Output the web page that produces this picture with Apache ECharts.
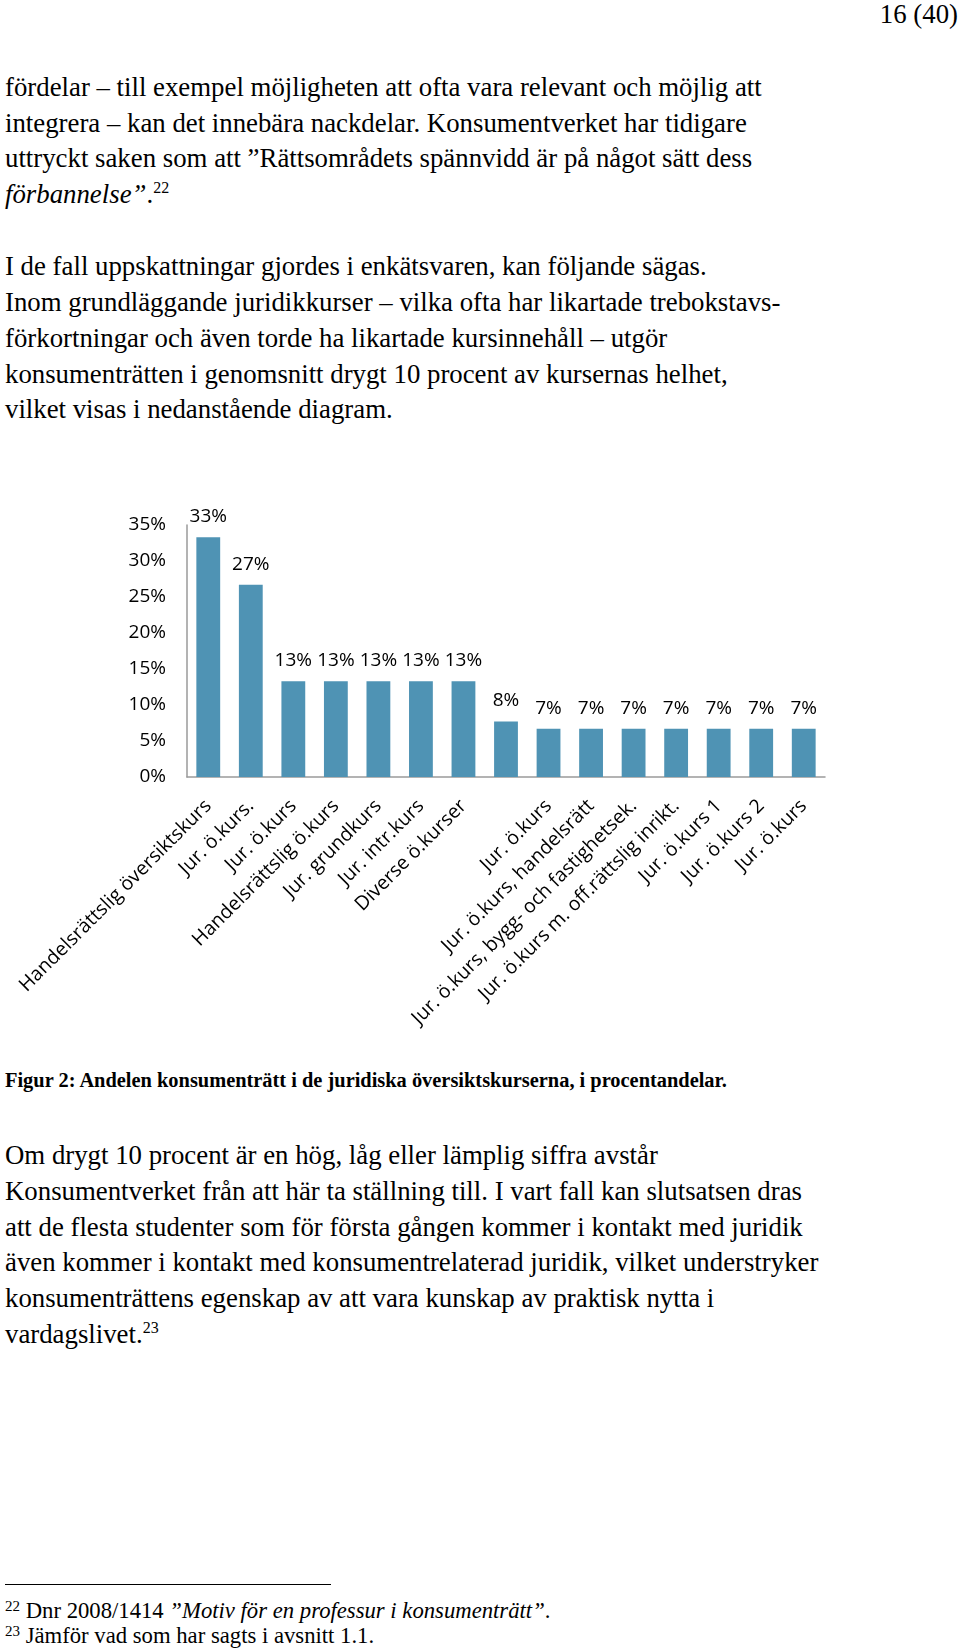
<!DOCTYPE html>
<html>
<head>
<meta charset="utf-8">
<script src="https://cdn.jsdelivr.net/npm/echarts@6/dist/echarts.min.js"></script>
<style>
  html, body { margin: 0; padding: 0; background: #fff; }
  body { width: 960px; height: 1652px; position: relative; overflow: hidden; }
  .t { position: absolute; left: 5px; white-space: nowrap; font-family: "Liberation Serif", "Times New Roman", serif;
       font-size: 26.8px; line-height: 36px; height: 36px; color: #000; }
  .cap { font-weight: bold; font-size: 20.4px; }
  .fn { font-size: 22.7px; line-height: 24px; height: 24px; }
  sup { font-size: 16px; line-height: 0; vertical-align: 0.6em; }
  .fn sup { font-size: 15px; vertical-align: 0.45em; }
  #chart { position: absolute; left: 0; top: 470px; width: 960px; height: 560px; }
  #rule { position: absolute; left: 5px; top: 1584px; width: 326px; height: 0; border-top: 1.5px solid #000; }
</style>
</head>
<body>
<div class="t" style="left:auto;right:2px;top:-4px;">16 (40)</div>

<div class="t" style="top:69px;">fördelar – till exempel möjligheten att ofta vara relevant och möjlig att</div>
<div class="t" style="top:104.5px;">integrera – kan det innebära nackdelar. Konsumentverket har tidigare</div>
<div class="t" style="top:140px;">uttryckt saken som att ”Rättsområdets spännvidd är på något sätt dess</div>
<div class="t" style="top:176px;"><i>förbannelse”</i>.<sup>22</sup></div>

<div class="t" style="top:248px;">I de fall uppskattningar gjordes i enkätsvaren, kan följande sägas.</div>
<div class="t" style="top:284px;">Inom grundläggande juridikkurser – vilka ofta har likartade trebokstavs-</div>
<div class="t" style="top:319.5px;">förkortningar och även torde ha likartade kursinnehåll – utgör</div>
<div class="t" style="top:355.5px;">konsumenträtten i genomsnitt drygt 10 procent av kursernas helhet,</div>
<div class="t" style="top:391px;">vilket visas i nedanstående diagram.</div>

<div id="chart"></div>

<div class="t cap" style="top:1062px;">Figur 2: Andelen konsumenträtt i de juridiska översiktskurserna, i procentandelar.</div>

<div class="t" style="top:1137px;">Om drygt 10 procent är en hög, låg eller lämplig siffra avstår</div>
<div class="t" style="top:1173px;">Konsumentverket från att här ta ställning till. I vart fall kan slutsatsen dras</div>
<div class="t" style="top:1208.5px;">att de flesta studenter som för första gången kommer i kontakt med juridik</div>
<div class="t" style="top:1244px;">även kommer i kontakt med konsumentrelaterad juridik, vilket understryker</div>
<div class="t" style="top:1280px;">konsumenträttens egenskap av att vara kunskap av praktisk nytta i</div>
<div class="t" style="top:1315.5px;">vardagslivet.<sup>23</sup></div>

<div id="rule"></div>
<div class="t fn" style="top:1599px;"><sup>22</sup> Dnr 2008/1414 <i>”Motiv för en professur i konsumenträtt”</i>.</div>
<div class="t fn" style="top:1624px;"><sup>23</sup> Jämför vad som har sagts i avsnitt 1.1.</div>

<script>
// ---- data ----
const categories = [
  "Handelsrättslig översiktskurs",
  "Jur. ö.kurs.",
  "Jur. ö.kurs",
  "Handelsrättslig ö.kurs",
  "Jur. grundkurs",
  "Jur. intr.kurs",
  "Diverse ö.kurser",
  "",
  "Jur. ö.kurs",
  "Jur. ö.kurs, handelsrätt",
  "Jur. ö.kurs, bygg- och fastighetsek.",
  "Jur. ö.kurs m. off.rättslig inrikt.",
  "Jur. ö.kurs 1",
  "Jur. ö.kurs 2",
  "Jur. ö.kurs"
];
const shares = [33.3, 26.7, 13.3, 13.3, 13.3, 13.3, 13.3, 7.7, 6.7, 6.7, 6.7, 6.7, 6.7, 6.7, 6.7];
const yTicks = { min: 0, max: 35, interval: 5 };

const labelFont = '"Open Sans", "DejaVu Sans", sans-serif';
const chart = echarts.init(document.getElementById('chart'), null, { renderer: 'canvas' });
chart.setOption({
  animation: false,
  backgroundColor: 'transparent',
  grid: { left: 187, top: 55, width: 638, height: 252, containLabel: false, outerBoundsMode: 'none' },
  xAxis: {
    type: 'category',
    data: categories,
    axisLine: { show: true, lineStyle: { color: '#9a9a9a', width: 1.5 } },
    axisTick: { show: false },
    axisLabel: {
      interval: 0, rotate: 45, margin: 26,
      color: '#000', fontFamily: labelFont, fontSize: 19.5
    },
    splitLine: { show: false }
  },
  yAxis: {
    type: 'value',
    min: yTicks.min, max: yTicks.max, interval: yTicks.interval,
    axisLine: { show: true, lineStyle: { color: '#9a9a9a', width: 1.5 } },
    axisTick: { show: false },
    splitLine: { show: false },
    axisLabel: {
      margin: 21, color: '#000', fontFamily: labelFont, fontSize: 19,
      formatter: '{value}%'
    }
  },
  series: [{
    type: 'bar',
    data: shares,
    barWidth: '56%',
    itemStyle: { color: '#4F93B4' },
    label: {
      show: true, position: 'top', distance: 11,
      color: '#000', fontFamily: labelFont, fontSize: 19,
      formatter: p => Math.round(p.value) + '%'
    }
  }]
});
</script>
</body>
</html>
